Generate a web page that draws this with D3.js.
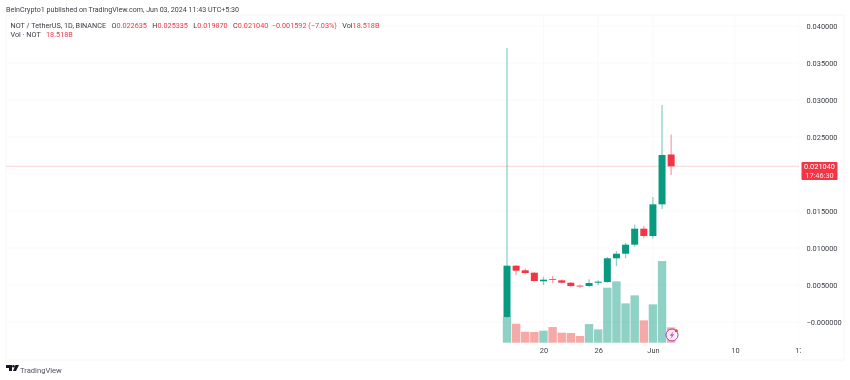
<!DOCTYPE html>
<html>
<head>
<meta charset="utf-8">
<script src="https://cdn.jsdelivr.net/npm/d3@7"></script>
<style>
html, body { margin: 0; padding: 0; background: #fff; }
svg { display: block; filter: blur(0.4px); }
text { font-family: Roboto, Arial, sans-serif; white-space: pre; }
.axis path, .axis line { display: none; }
.axis text { fill: #3a3d46; font-size: 7.4px; font-family: Roboto, Arial, sans-serif; }
</style>
</head>
<body>
<div id="chart"></div>
<script>
var days = ["2024-05-16","2024-05-17","2024-05-18","2024-05-19","2024-05-20","2024-05-21","2024-05-22","2024-05-23","2024-05-24","2024-05-25","2024-05-26","2024-05-27","2024-05-28","2024-05-29","2024-05-30","2024-05-31","2024-06-01","2024-06-02","2024-06-03"];
var opens =  [0.00068,0.00761,0.00699,0.00666,0.00550,0.00581,0.00563,0.00531,0.00491,0.00486,0.00531,0.00540,0.00861,0.00923,0.01045,0.01261,0.01162,0.01590,0.022635];
var highs =  [0.03703,0.00770,0.00726,0.00675,0.00612,0.00622,0.00577,0.00540,0.00504,0.00577,0.00563,0.00878,0.00959,0.01072,0.01315,0.01297,0.01689,0.02932,0.025335];
var lows =   [0.00050,0.00635,0.00645,0.00550,0.00500,0.00523,0.00523,0.00469,0.00459,0.00473,0.00496,0.00531,0.00757,0.00861,0.01018,0.01131,0.01130,0.01527,0.019870];
var closes = [0.00761,0.00693,0.00662,0.00554,0.00572,0.00572,0.00531,0.00486,0.00482,0.00527,0.00545,0.00861,0.00923,0.01045,0.01261,0.01162,0.01590,0.02257,0.021040];
var volumes = [31.4,22.9,13.3,12.9,14.5,18.9,12.1,11.7,8.1,22.5,16.1,66.4,74.1,47.5,57.2,27.0,46.3,98.6,18.518];

var priceTicks = [0,0.005,0.01,0.015,0.02,0.025,0.03,0.035,0.04];
var priceLabels = ["−0.000000","0.005000","0.010000","0.015000","","0.025000","0.030000","0.035000","0.040000"];
var dateTicks = ["2024-05-20","2024-05-26","2024-06-01","2024-06-10","2024-06-17"];
var dateLabels = ["20","26","Jun","10","17"];

var lastPrice = 0.02104;
var countdown = "17:46:30";

var green = "#089981", red = "#f23645", volRed = "#ef5350";
var parse = d3.utcParse("%Y-%m-%d");

var width = 850, height = 380;
var margin = {left: 6, right: 799, top: 15, bottom: 360};

var svg = d3.select("#chart").append("svg")
    .attr("width", width)
    .attr("height", height);

// x: 9.12px per day, May 16 sits at 507
var x = d3.scaleUtc()
    .domain([parse("2024-05-16"), parse("2024-06-10")])
    .range([507, 735]);
var y = d3.scaleLinear().domain([0, 0.04]).range([322, 26]);
var yVol = d3.scaleLinear().domain([0, 100]).range([342.7, 259.9]);

svg.append("defs").append("clipPath").attr("id", "pane")
    .append("rect")
    .attr("x", margin.left).attr("y", margin.top)
    .attr("width", margin.right - margin.left)
    .attr("height", margin.bottom - margin.top);

// frame
svg.append("rect")
    .attr("x", margin.left).attr("y", margin.top)
    .attr("width", 838).attr("height", margin.bottom - margin.top)
    .attr("fill", "none").attr("stroke", "#f6f6f6");

// grid
var grid = svg.append("g").attr("clip-path", "url(#pane)");
grid.selectAll(".h").data(priceTicks).enter().append("line")
    .attr("x1", margin.left).attr("x2", margin.right)
    .attr("y1", function(d) { return y(d); })
    .attr("y2", function(d) { return y(d); })
    .attr("stroke", "#f9f9f9");
grid.selectAll(".v").data(dateTicks).enter().append("line")
    .attr("x1", function(d) { return x(parse(d)); })
    .attr("x2", function(d) { return x(parse(d)); })
    .attr("y1", margin.top).attr("y2", 343)
    .attr("stroke", "#f9f9f9");

var idx = d3.range(days.length);
function isUp(i) { return closes[i] >= opens[i]; }

var pane = svg.append("g").attr("clip-path", "url(#pane)");

// last price line
pane.append("line")
    .attr("x1", margin.left).attr("x2", margin.right)
    .attr("y1", y(lastPrice)).attr("y2", y(lastPrice))
    .attr("stroke", "#fbd5d9");

// candles
pane.selectAll(".wick").data(idx).enter().append("line")
    .attr("class", "wick")
    .attr("x1", function(i) { return x(parse(days[i])); })
    .attr("x2", function(i) { return x(parse(days[i])); })
    .attr("y1", function(i) { return y(highs[i]); })
    .attr("y2", function(i) { return y(lows[i]); })
    .attr("stroke", function(i) { return isUp(i) ? green : red; })
    .attr("stroke-opacity", 0.45)
    .attr("stroke-width", 1.3);

pane.selectAll(".body").data(idx).enter().append("rect")
    .attr("class", "body")
    .attr("x", function(i) { return x(parse(days[i])) - 3.5; })
    .attr("width", 7)
    .attr("y", function(i) { return y(Math.max(opens[i], closes[i])); })
    .attr("height", function(i) { return Math.max(0.8, Math.abs(y(opens[i]) - y(closes[i]))); })
    .attr("fill", function(i) { return isUp(i) ? green : red; });

// volume
pane.selectAll(".vol").data(idx).enter().append("rect")
    .attr("class", "vol")
    .attr("x", function(i) { return x(parse(days[i])) - 4.2; })
    .attr("width", 8.4)
    .attr("y", function(i) { return yVol(volumes[i]); })
    .attr("height", function(i) { return yVol(0) - yVol(volumes[i]); })
    .attr("fill", function(i) { return isUp(i) ? green : volRed; })
    .attr("fill-opacity", function(i) { return isUp(i) ? 0.45 : 0.5; });

// axes
var priceAxis = d3.axisRight(y)
    .tickValues(priceTicks)
    .tickSize(0)
    .tickPadding(0)
    .tickFormat(function(d, i) { return priceLabels[i]; });
svg.append("g").attr("class", "axis")
    .attr("transform", "translate(806.5,0)")
    .call(priceAxis);

var timeAxis = d3.axisBottom(x)
    .tickValues(dateTicks.map(parse))
    .tickSize(0)
    .tickPadding(0)
    .tickFormat(function(d, i) { return dateLabels[i]; });
svg.append("defs").append("clipPath").attr("id", "timeClip")
    .append("rect").attr("x", 0).attr("y", -5).attr("width", 801).attr("height", 30);
svg.append("g").attr("class", "axis")
    .attr("clip-path", "url(#timeClip)")
    .attr("transform", "translate(0,348)")
    .call(timeAxis);

// price label box
svg.append("rect")
    .attr("x", 801.5).attr("y", 162).attr("width", 36).attr("height", 18)
    .attr("rx", 1).attr("fill", red);
svg.append("text").attr("x", 819.5).attr("y", 169.4)
    .attr("text-anchor", "middle").attr("fill", "#fff").attr("font-size", 7.4)
    .text(d3.format(".6f")(lastPrice));
svg.append("text").attr("x", 819.5).attr("y", 177.6)
    .attr("text-anchor", "middle").attr("fill", "#fde0e3").attr("font-size", 7.4)
    .text(countdown);

// header
svg.append("text").attr("x", 6).attr("y", 12)
    .attr("font-size", 7.1).attr("fill", "#3a3d46")
    .text("BeInCrypto1 published on TradingView.com, Jun 03, 2024 11:43 UTC+5:30");

var legend = svg.append("text").attr("x", 10.5).attr("y", 28).attr("font-size", 7.25).attr("fill", "#3a3d46");
var legendParts = [
    ["NOT / TetherUS, 1D, BINANCE   ", 0], ["O", 0], ["0.022635   ", 1], ["H", 0], ["0.025335   ", 1],
    ["L", 0], ["0.019870   ", 1], ["C", 0], ["0.021040  −0.001592 (−7.03%)   ", 1], ["Vol", 0], ["18.518B", 1]
];
legendParts.forEach(function(p) {
    legend.append("tspan").attr("fill", p[1] ? red : "#3a3d46").text(p[0]);
});

var legend2 = svg.append("text").attr("x", 10.5).attr("y", 37).attr("font-size", 7.25).attr("fill", "#3a3d46");
legend2.append("tspan").text("Vol · NOT   ");
legend2.append("tspan").attr("fill", red).text("18.518B");

// footer logo
var logo = svg.append("g").attr("transform", "translate(6,365)").attr("fill", "#131722");
logo.append("path").attr("d", "M0 0H6V6H3V3H0Z M9.5 0 H13 L10 6 H7 Z");
logo.append("circle").attr("cx", 7.5).attr("cy", 1.3).attr("r", 1.3);
svg.append("text").attr("x", 20).attr("y", 372.5)
    .attr("font-size", 7.6).attr("fill", "#50535e")
    .text("TradingView");

// lightning badge
var badge = svg.append("g").attr("transform", "translate(672,335)");
badge.append("circle").attr("r", 6).attr("fill", "#fff").attr("fill-opacity", 0.75).attr("stroke", "#a53dbd").attr("stroke-width", 1);
badge.append("path").attr("d", "M1.6 -4 L-2.2 0.8 H-0.2 L-1.4 4 L2.2 -0.8 H0.2 Z").attr("fill", "#b65ccb");
badge.append("circle").attr("cx", 4.3).attr("cy", -4.3).attr("r", 1.5).attr("fill", red);
</script>
</body>
</html>
